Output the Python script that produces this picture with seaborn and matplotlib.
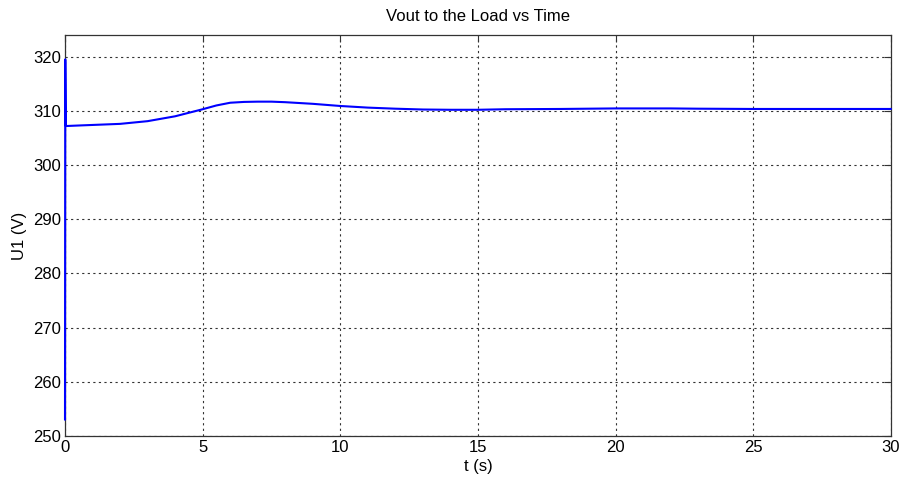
import matplotlib
matplotlib.use("Agg")
import matplotlib.pyplot as plt
import seaborn as sns
import pandas as pd

t_s = [0.0, 0.01, 0.03, 0.5, 1, 2, 3, 4, 5, 5.5, 6, 6.5, 7, 7.5, 8, 9, 10, 11, 12,
       13, 14, 15, 16, 18, 20, 22, 23, 25, 28, 30]
u1_v = [253.0, 319.5, 307.2, 307.3, 307.4, 307.6, 308.1, 309.0, 310.3, 311.0, 311.5,
        311.65, 311.7, 311.7, 311.6, 311.3, 310.9, 310.6, 310.4, 310.25, 310.2, 310.2,
        310.3, 310.35, 310.45, 310.45, 310.4, 310.35, 310.35, 310.35]
x_ticks = [0, 5, 10, 15, 20, 25, 30]
y_ticks = [250, 260, 270, 280, 290, 300, 310, 320]

sns.set_style("white")
plt.rcParams['font.family'] = ['Liberation Sans', 'DejaVu Sans']
plt.rcParams['text.color'] = 'black'
plt.rcParams['axes.labelcolor'] = 'black'
plt.rcParams['xtick.labelcolor'] = 'black'
plt.rcParams['ytick.labelcolor'] = 'black'

df = pd.DataFrame({"t": t_s, "U1": u1_v})
fig = plt.figure(figsize=(9.06, 4.84), dpi=100)
ax = fig.add_axes([65/906, 48/484, (891-65)/906, (436-35)/484])
sns.lineplot(data=df, x="t", y="U1", sort=False, color="#0000ff", linewidth=1.5, ax=ax,
             zorder=3, clip_on=False)

ax.set_xlim(0, 30)
ax.set_ylim(250, 324)
ax.set_xticks(x_ticks)
ax.set_yticks(y_ticks)
ax.grid(True, linestyle=(0, (2, 3)), color="#333333", linewidth=0.8)
ax.tick_params(direction="in", length=5, top=True, right=True, labelsize=12,
               color="#333333", pad=3)
for s in ax.spines.values():
    s.set_color("#333333")
    s.set_linewidth(0.9)
ax.set_xlabel("t (s)", fontsize=12, labelpad=3)
ax.set_ylabel("U1 (V)", fontsize=12, labelpad=4)
ax.set_title("Vout to the Load vs Time", fontsize=12, pad=10)

fig.savefig("out.png", dpi=100, facecolor="white")
